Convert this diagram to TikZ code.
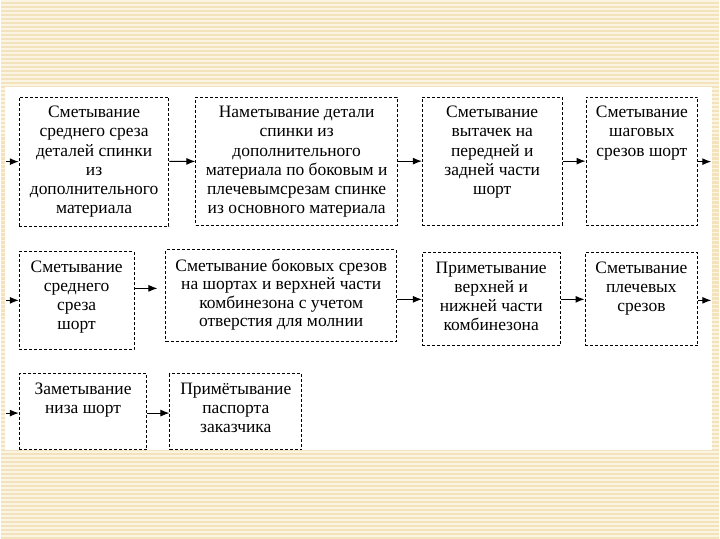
\documentclass[tikz,border=0pt]{standalone}
\usepackage{fontspec}
\setmainfont{Liberation Serif}
\usetikzlibrary{arrows.meta}
\definecolor{bgbeige}{HTML}{F2E3BC}
\definecolor{bgstripe}{HTML}{FBF4E2}

% text of a stage box: top aligned, centred lines
\newcommand{\optext}[3]{\parbox[c][#2][t]{#1}{\centering\vspace*{2pt}#3}}

\begin{document}
\begin{tikzpicture}[x=1pt, y=-1pt,
    every node/.style={font=\fontsize{17.5}{19.2}\selectfont},
    op/.style={draw, dash pattern=on 3pt off 2pt, line width=1pt, anchor=north west,
      inner xsep=1pt, inner ysep=7pt},
    flow/.style={-{Latex[length=9pt,width=7pt]}, line width=1pt}]
      % Background
      \fill[bgbeige] (0,0) rectangle (720,540);
      \foreach \y in {1,5,...,540}
        \draw[bgstripe, line width=1.6pt] (0,\y) -- (720,\y);
      \fill[white] (4,87) rectangle (713,451);
      \useasboundingbox (0,0) rectangle (720,540);

      % Row 1
      \node[op] (b1) at (18,97) {\optext{148pt}{115pt}{Сметывание\\среднего среза\\деталей спинки\\из\\дополнительного\\материала}};
      \node[op] (b2) at (195,97) {\optext{200pt}{114pt}{Наметывание детали\\спинки из\\дополнительного\\материала по боковым и\\плечевымсрезам спинке\\из основного материала}};
      \node[op] (b3) at (422,97) {\optext{138pt}{114pt}{Сметывание\\вытачек на\\передней и\\задней части\\шорт}};
      \node[op] (b4) at (586,97) {\optext{110pt}{114pt}{Сметывание\\шаговых\\срезов шорт}};

      % Row 2
      \node[op] (b5) at (18,252) {\optext{113pt}{84pt}{Сметывание\\среднего\\среза\\шорт}};
      \node[op] (b6) at (165,250) {\optext{229pt}{78pt}{\fontsize{17.5}{18.5}\selectfont Сметывание боковых срезов\\на шортах и верхней части\\комбинезона с учетом\\отверстия для молнии}};
      \node[op] (b7) at (422,253) {\optext{136pt}{79pt}{Приметывание\\верхней и\\нижней части\\комбинезона}};
      \node[op] (b8) at (585,253) {\optext{111pt}{79pt}{Сметывание\\плечевых\\срезов}};

      % Row 3
      \node[op] (b9) at (18,374) {\optext{126pt}{62pt}{Заметывание\\низа шорт}};
      \node[op] (b10) at (169,374) {\optext{130pt}{62pt}{Примётывание\\паспорта\\заказчика}};

      % Free arrow ends
      \coordinate (in1) at (5,162);
      \coordinate (out1) at (712,162);
      \coordinate (in2) at (5,301);
      \coordinate (a56) at (157,289);
      \coordinate (out2) at (712,301);
      \coordinate (in3) at (5,414);

      % Arrows
      \draw[flow] (in1) -- (b1.west |- in1);
      \draw[flow] (b1) -- (b2);
      \draw[flow] (b2) -- (b3);
      \draw[flow] (b3) -- (b4);
      \draw[flow] (b4.east |- out1) -- (out1);
      \draw[flow] (in2) -- (b5.west |- in2);
      \draw[flow] (b5.east |- a56) -- (a56);
      \draw[flow] (b6.east |- b7.west) -- (b7.west);
      \draw[flow] (b7) -- (b8);
      \draw[flow] (b8.east |- out2) -- (out2);
      \draw[flow] (in3) -- (b9.west |- in3);
      \draw[flow] (b9.east |- in3) -- (b10.west |- in3);
    \end{tikzpicture}
\end{document}
